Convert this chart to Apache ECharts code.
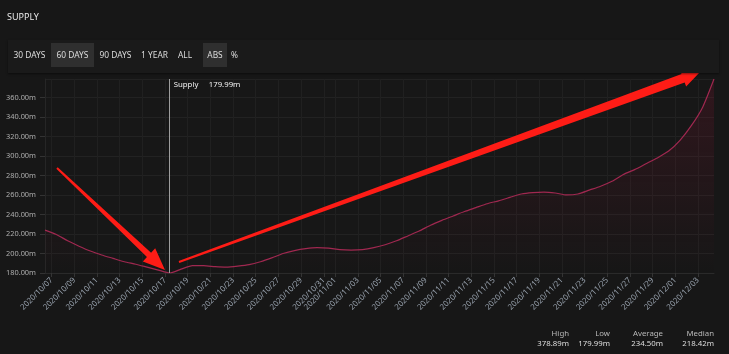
<!DOCTYPE html>
<html>
<head>
<meta charset="utf-8">
<script src="https://cdn.jsdelivr.net/npm/echarts@6/dist/echarts.min.js"></script>
<style>
    body { margin: 0; background: #171717; font-family: 'Noto Sans', sans-serif; overflow: hidden; }
    #chart { position: absolute; left: 0; top: 0; width: 729px; height: 354px; }
    .title { position: absolute; left: 7px; top: 10px; font-size: 9px; color: #e8e8e8; }
    .toolbar { position: absolute; left: 8px; top: 40px; width: 711px; height: 33px; background: #1a1a1a; box-shadow: 0 1px 2px rgba(0,0,0,0.5); }
    .btn { position: absolute; top: 3px; height: 24px; line-height: 24px; text-align: center; font-size: 8.4px; color: #dcdcdc; }
    .btn.on { background: #2f2f2f; }
    .stat { position: absolute; text-align: right; font-size: 7.8px; line-height: 10px; }
    .stat .k { color: #b8b8b8; }
    .stat .v { color: #dedede; }
</style>
</head>
<body>
<div id="chart"></div>
<div class="title">SUPPLY</div>
<div class="toolbar" id="toolbar"></div>
<div id="stats"></div>
<script>
// daily supply readings (m), last 60 days
const dates = [
    '2020-10-06 10:00', '2020-10-07 10:00', '2020-10-08 10:00', '2020-10-09 10:00', '2020-10-10 10:00',
    '2020-10-11 10:00', '2020-10-12 10:00', '2020-10-13 10:00', '2020-10-14 10:00', '2020-10-15 10:00',
    '2020-10-16 10:00', '2020-10-17 10:00', '2020-10-18 10:00', '2020-10-19 10:00', '2020-10-20 10:00',
    '2020-10-21 10:00', '2020-10-22 10:00', '2020-10-23 10:00', '2020-10-24 10:00', '2020-10-25 10:00',
    '2020-10-26 10:00', '2020-10-27 10:00', '2020-10-28 10:00', '2020-10-29 10:00', '2020-10-30 10:00',
    '2020-10-31 10:00', '2020-11-01 10:00', '2020-11-02 10:00', '2020-11-03 10:00', '2020-11-04 10:00',
    '2020-11-05 10:00', '2020-11-06 10:00', '2020-11-07 10:00', '2020-11-08 10:00', '2020-11-09 10:00',
    '2020-11-10 10:00', '2020-11-11 10:00', '2020-11-12 10:00', '2020-11-13 10:00', '2020-11-14 10:00',
    '2020-11-15 10:00', '2020-11-16 10:00', '2020-11-17 10:00', '2020-11-18 10:00', '2020-11-19 10:00',
    '2020-11-20 10:00', '2020-11-21 10:00', '2020-11-22 10:00', '2020-11-23 10:00', '2020-11-24 10:00',
    '2020-11-25 10:00', '2020-11-26 10:00', '2020-11-27 10:00', '2020-11-28 10:00', '2020-11-29 10:00',
    '2020-11-30 10:00', '2020-12-01 10:00', '2020-12-02 10:00', '2020-12-03 10:00', '2020-12-04 10:00'
];
const supply = [
    224, 219.5, 213, 207.5, 202.5, 198.5, 195, 191.5, 189, 186, 183, 179.99,
    184, 187.5, 187.5, 186.5, 186, 187, 188.5, 191.5, 195.5, 200, 203, 205, 206, 205.5,
    204, 203.5, 204, 206, 209, 213, 218, 223, 229, 234, 238.5, 243, 247, 251, 254,
    257.5, 261, 262.5, 263, 262, 260, 261, 265, 269, 274, 281, 286, 292, 298, 305, 316, 331, 350, 378.89
];
const tickDays = [
    '2020-10-07', '2020-10-09', '2020-10-11', '2020-10-13', '2020-10-15', '2020-10-17', '2020-10-19',
    '2020-10-21', '2020-10-23', '2020-10-25', '2020-10-27', '2020-10-29', '2020-10-31', '2020-11-01',
    '2020-11-03', '2020-11-05', '2020-11-07', '2020-11-09', '2020-11-11', '2020-11-13', '2020-11-15',
    '2020-11-17', '2020-11-19', '2020-11-21', '2020-11-23', '2020-11-25', '2020-11-27', '2020-11-29',
    '2020-12-01', '2020-12-03'
];
const ranges = ['30 DAYS', '60 DAYS', '90 DAYS', '1 YEAR', 'ALL'];
const modes = ['ABS', '%'];
const statLabels = ['High', 'Low', 'Average', 'Median'];
const statValues = ['378.89m', '179.99m', '234.50m', '218.42m'];
const lowIndex = 11;

// toolbar buttons
const btnSpots = [[0, 43], [43, 43], [86, 43], [129, 35], [164, 26], [195, 24], [219, 15]];
const toolbar = document.getElementById('toolbar');
ranges.concat(modes).forEach((label, i) => {
    const b = document.createElement('div');
    b.className = 'btn' + (label === '60 DAYS' || label === 'ABS' ? ' on' : '');
    b.style.left = btnSpots[i][0] + 'px';
    b.style.width = btnSpots[i][1] + 'px';
    b.textContent = label;
    toolbar.appendChild(b);
});

// stats footer
const statRight = [569, 610, 663, 714];
const stats = document.getElementById('stats');
statLabels.forEach((label, i) => {
    const s = document.createElement('div');
    s.className = 'stat';
    s.style.right = (729 - statRight[i]) + 'px';
    s.style.top = '328px';
    s.innerHTML = `<div class="k">${label}</div><div class="v">${statValues[i]}</div>`;
    stats.appendChild(s);
});

// tapered annotation arrow
function arrow(tail, tip, w0, w1, headLen, headHalf) {
    const dx = tip[0] - tail[0], dy = tip[1] - tail[1];
    const len = Math.sqrt(dx * dx + dy * dy);
    const ux = dx / len, uy = dy / len, nx = -uy, ny = ux;
    const bx = tip[0] - ux * headLen, by = tip[1] - uy * headLen;
    return {
        type: 'polygon',
        z: 100,
        shape: {
            points: [
                [tail[0] + nx * w0, tail[1] + ny * w0],
                [bx + nx * w1, by + ny * w1],
                [bx + nx * headHalf, by + ny * headHalf],
                tip,
                [bx - nx * headHalf, by - ny * headHalf],
                [bx - nx * w1, by - ny * w1],
                [tail[0] - nx * w0, tail[1] - ny * w0]
            ]
        },
        style: { fill: '#fe1c16' }
    };
}

const chart = echarts.init(document.getElementById('chart'));
const textFont = 'Noto Sans';
const tickTimes = tickDays.map(d => new Date(d + 'T00:00:00').getTime());

chart.setOption({
    animation: false,
    backgroundColor: 'transparent',
    grid: { left: 45, right: 15, top: 79, bottom: 81 },
    xAxis: {
        type: 'time',
        min: 'dataMin',
        max: 'dataMax',
        boundaryGap: false,
        axisLine: { lineStyle: { color: '#2a2a2a' } },
        axisTick: {
            show: true,
            length: 4,
            lineStyle: { color: '#343434' },
            customValues: tickTimes
        },
        axisLabel: {
            rotate: 45,
            fontSize: 7.9,
            fontFamily: textFont,
            color: '#98a2ae',
            margin: 6,
            hideOverlap: false,
            customValues: tickTimes,
            formatter: '{yyyy}/{MM}/{dd}'
        },
        splitLine: { show: true, lineStyle: { color: '#202020' } }
    },
    yAxis: {
        type: 'value',
        min: 180,
        max: 'dataMax',
        interval: 20,
        axisLine: { show: true, lineStyle: { color: '#262626' } },
        axisTick: { show: true, length: 5, lineStyle: { color: '#333' } },
        axisLabel: {
            showMaxLabel: false,
            fontSize: 7.4,
            fontFamily: textFont,
            color: '#adadad',
            margin: 9,
            formatter: v => v.toFixed(2) + 'm'
        },
        splitLine: { lineStyle: { color: '#222' } }
    },
    series: [{
        name: 'Supply',
        type: 'line',
        data: dates.map((d, i) => [d, supply[i]]),
        showSymbol: false,
        smooth: 0.2,
        lineStyle: { color: '#a02850', width: 1.2 },
        itemStyle: { color: '#a02850' },
        areaStyle: {
            color: new echarts.graphic.LinearGradient(0, 0, 0, 1, [
                { offset: 0, color: 'rgba(115,22,45,0.4)' },
                { offset: 1, color: 'rgba(115,22,45,0)' }
            ])
        },
        markLine: {
            silent: true,
            symbol: 'none',
            label: { show: false },
            lineStyle: { color: '#9c9c9c', width: 1, type: 'solid' },
            data: [{ xAxis: dates[lowIndex] }]
        }
    }]
});

// hover readout at the low point, placed from the axis scale
const lowPx = chart.convertToPixel({ xAxisIndex: 0, yAxisIndex: 0 }, [dates[lowIndex], supply[lowIndex]]);
chart.setOption({
    graphic: [
        {
            type: 'text', z: 90, x: lowPx[0] + 4, y: 85,
            style: { text: 'Supply', fill: '#f0f0f0', font: `7.8px "${textFont}"`, verticalAlign: 'middle' }
        },
        {
            type: 'text', z: 90, x: lowPx[0] + 39, y: 85,
            style: { text: supply[lowIndex].toFixed(2) + 'm', fill: '#f0f0f0', font: `7.8px "${textFont}"`, verticalAlign: 'middle' }
        },
        arrow([57, 168], [165, 270], 1, 3, 22, 9),
        arrow([179, 262], [700, 72], 1, 4.5, 18, 9)
    ]
});
</script>
</body>
</html>
